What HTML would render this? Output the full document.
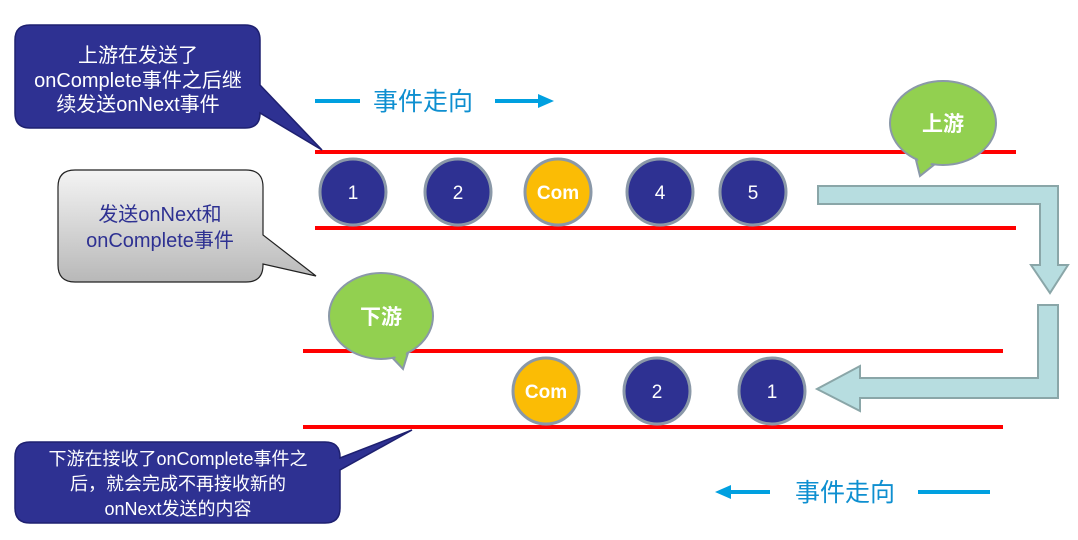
<!DOCTYPE html>
<html><head><meta charset="utf-8"><style>
body{margin:0;background:#fff;width:1078px;height:535px;overflow:hidden}
text{font-family:"Liberation Sans","Noto Sans CJK SC",sans-serif}
</style></head><body>
<svg width="1078" height="535" viewBox="0 0 1078 535">
<defs>
<linearGradient id="g" x1="0" y1="0" x2="0" y2="1"><stop offset="0" stop-color="#f4f4f4"/><stop offset="1" stop-color="#b8b8b8"/></linearGradient>
</defs>
<g stroke="#f00" stroke-width="4">
<line x1="315" y1="152" x2="1016" y2="152"/><line x1="315" y1="228" x2="1016" y2="228"/>
<line x1="303" y1="351" x2="1003" y2="351"/><line x1="303" y1="427" x2="1003" y2="427"/>
</g>
<path d="M30,25 H245 Q260,25 260,40 V85 L322,150 L260,113 Q260,128 245,128 H30 Q15,128 15,113 V40 Q15,25 30,25Z" fill="#2e3192" stroke="#1e2070" stroke-width="1.5"/>
<g fill="#fff" font-size="20" text-anchor="middle">
<text x="138" y="62">上游在发送了</text><text x="138" y="87">onComplete事件之后继</text><text x="138" y="111">续发送onNext事件</text></g>
<path d="M75,170 H246 Q263,170 263,187 V235 L316,276 L263,264 V265 Q263,282 246,282 H75 Q58,282 58,265 V187 Q58,170 75,170Z" fill="url(#g)" stroke="#222" stroke-width="1.2"/>
<g fill="#2e3192" font-size="20" text-anchor="middle">
<text x="160" y="221">发送onNext和</text><text x="160" y="247">onComplete事件</text></g>
<path d="M30,442 H325 Q340,442 340,457 V458 L412,430 L340,470 V508 Q340,523 325,523 H30 Q15,523 15,508 V457 Q15,442 30,442Z" fill="#2e3192" stroke="#1e2070" stroke-width="1.5"/>
<g fill="#fff" font-size="18" text-anchor="middle">
<text x="178" y="465">下游在接收了onComplete事件之</text><text x="178" y="490">后，就会完成不再接收新的</text><text x="178" y="515">onNext发送的内容</text></g>
<g fill="#00a0e0" stroke="#00a0e0">
<line x1="315" y1="101" x2="360" y2="101" stroke-width="4"/>
<line x1="495" y1="101" x2="540" y2="101" stroke-width="4"/>
<polygon points="538,94 554,101 538,108" stroke="none"/>
<line x1="730" y1="492" x2="770" y2="492" stroke-width="4"/>
<polygon points="731,485 715,492 731,499" stroke="none"/>
<line x1="918" y1="492" x2="990" y2="492" stroke-width="4"/>
</g>
<g fill="#0e8fd0" font-size="25"><text x="373" y="110">事件走向</text><text x="795" y="501">事件走向</text></g>
<path d="M818,186 H1058 V265 H1068 L1050,293 L1031,265 H1040 V204 H818Z" fill="#b7dde0" stroke="#8aa6a8" stroke-width="2"/>
<path d="M1038,305 H1058 V398 H860 V411 L817,389 L860,366 V378 H1038Z" fill="#b7dde0" stroke="#8aa6a8" stroke-width="2"/>
<g stroke="#8a98a8" stroke-width="3">
<circle cx="353" cy="192" r="33" fill="#2e3192"/><circle cx="458" cy="192" r="33" fill="#2e3192"/>
<circle cx="558" cy="192" r="33" fill="#fbbc05"/><circle cx="660" cy="192" r="33" fill="#2e3192"/>
<circle cx="753" cy="192" r="33" fill="#2e3192"/>
<circle cx="546" cy="391" r="33" fill="#fbbc05"/><circle cx="657" cy="391" r="33" fill="#2e3192"/>
<circle cx="772" cy="391" r="33" fill="#2e3192"/>
</g>
<g fill="#fff" font-size="19" text-anchor="middle">
<text x="353" y="199">1</text><text x="458" y="199">2</text><text x="558" y="199" font-weight="bold">Com</text>
<text x="660" y="199">4</text><text x="753" y="199">5</text>
<text x="546" y="398" font-weight="bold">Com</text><text x="657" y="398">2</text><text x="772" y="398">1</text>
</g>
<!-- 上游 bubble -->
<g fill="#92d050" stroke="#8a98a8" stroke-width="2">
<polygon points="914,152 920,176 940,160"/>
<ellipse cx="943" cy="123" rx="53" ry="42"/>
</g>
<polygon points="916,150 921,173 937,158" fill="#92d050"/>
<text x="943" y="131" fill="#fff" font-size="21" font-weight="bold" text-anchor="middle" font-family="Noto Serif CJK SC,serif">上游</text>
<!-- 下游 bubble -->
<g fill="#92d050" stroke="#8a98a8" stroke-width="2">
<polygon points="385,350 403,369 412,340"/>
<ellipse cx="381" cy="316" rx="52" ry="43"/>
</g>
<polygon points="388,348 402,365 410,342" fill="#92d050"/>
<text x="381" y="324" fill="#fff" font-size="21" font-weight="bold" text-anchor="middle" font-family="Noto Serif CJK SC,serif">下游</text>
</svg>
</body></html>
